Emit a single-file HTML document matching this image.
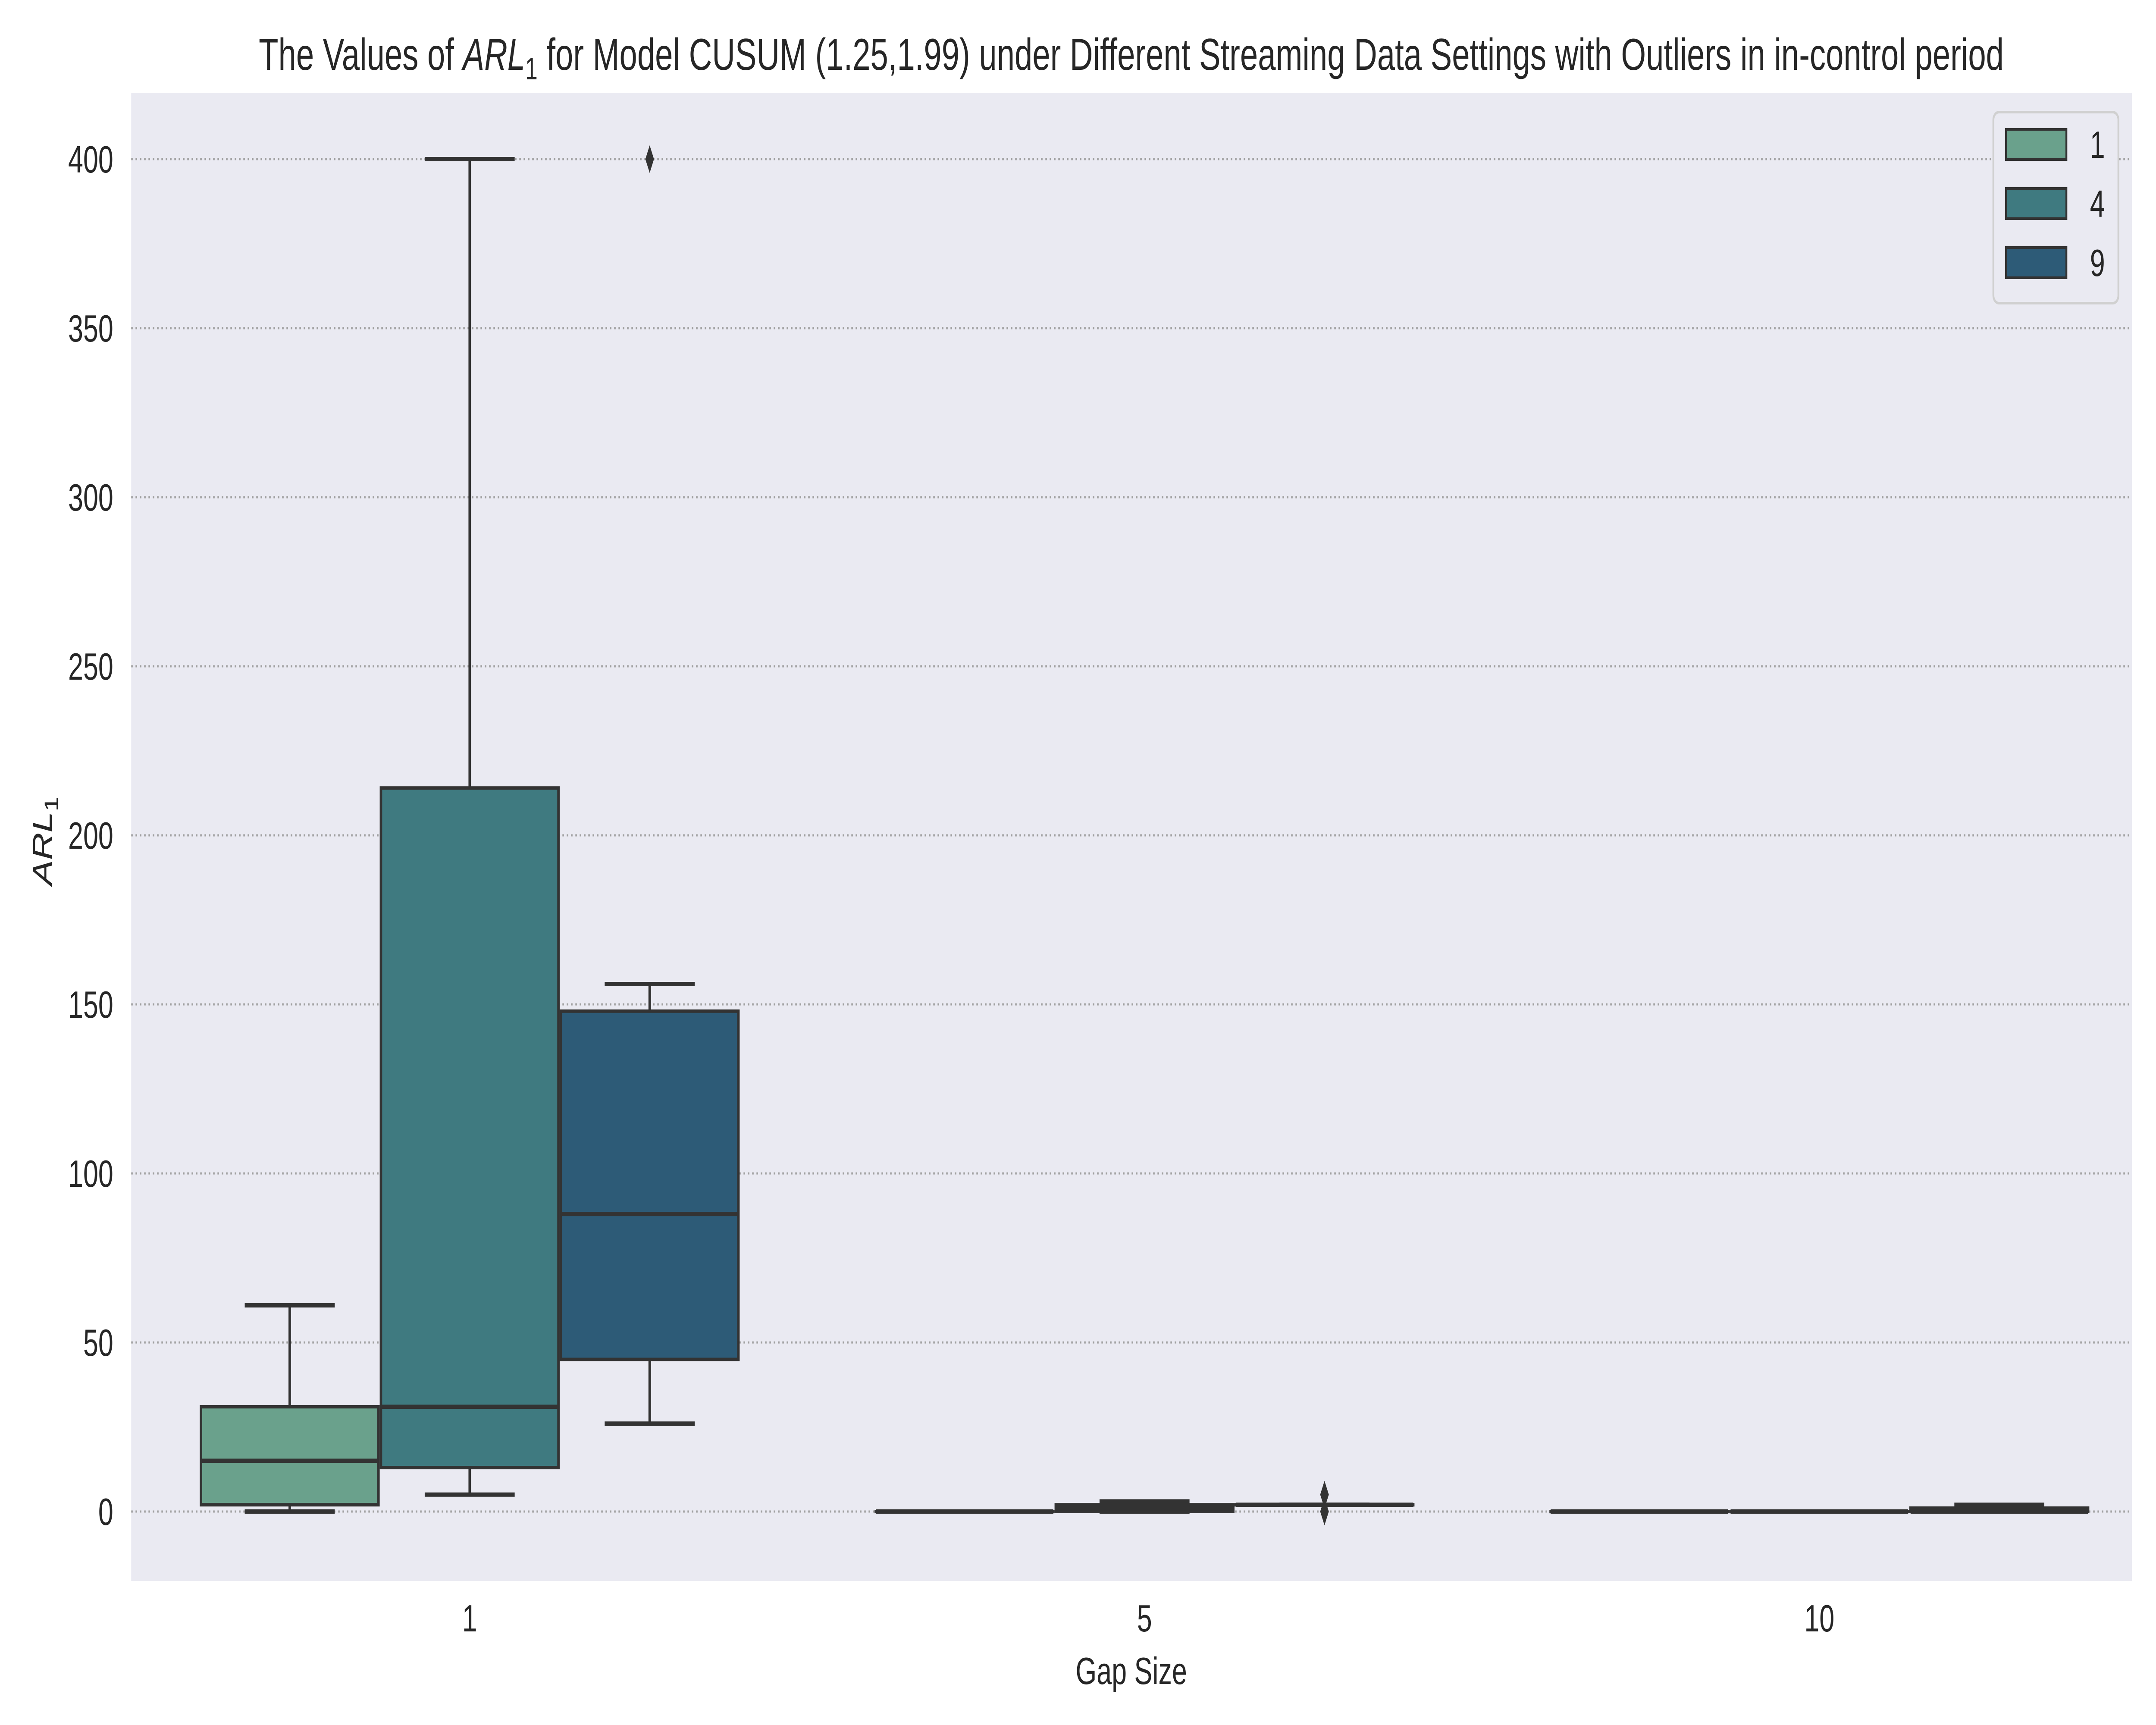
<!DOCTYPE html>
<html><head><meta charset="utf-8"><style>
html,body{margin:0;padding:0;background:#fff;width:100%;height:100%;overflow:hidden}
svg{display:block;width:100vw;height:100vh;font-family:"Liberation Sans",Arial,sans-serif}
</style></head><body>
<svg id="chart" viewBox="0 0 7000 4000" preserveAspectRatio="none" xmlns="http://www.w3.org/2000/svg">
<rect x="0" y="0" width="7000" height="4000" fill="#ffffff"/>
<rect x="426" y="215" width="6496" height="3451" fill="#eaeaf2"/>
<g id="grid"></g>
<g id="yticks"></g>
<g id="xticks"></g>
<g id="boxes"></g>
<text x="3673" y="162" font-size="104" text-anchor="middle" fill="#262626">The Values of <tspan font-style="italic">ARL</tspan><tspan font-size="72" dy="22">1</tspan><tspan dy="-22"> for Model CUSUM (1.25,1.99) under Different Streaming Data Settings with Outliers in in-control period</tspan></text>
<text x="3673" y="3905" font-size="88" text-anchor="middle" fill="#262626">Gap Size</text>
<text transform="translate(168,1950) rotate(-90)" font-size="88" text-anchor="middle" fill="#262626"><tspan font-style="italic">ARL</tspan><tspan font-size="62" dy="20">1</tspan></text>
<g>
<rect x="6472" y="260" width="406" height="443" rx="18" fill="#eaeaf2" stroke="#d0d0d0" stroke-width="6"/>
<g id="legend-items"></g>
</g>
</svg>
<script>
const categories = ["1","5","10"];
const hues = ["1","4","9"];
const colors = ["#6aa18c","#3f7a80","#2d5b77"];
// per group, per hue: [whiskerLow, q1, median, q3, whiskerHigh]
const statsGap1 = [[0,2,15,31,61],[5,13,31,214,400],[26,45,88,148,156]];
const statsGap5 = [[0,0,0,0,0],[0,0,1,2,3],[2,2,2,2,2]];
const statsGap10 = [[0,0,0,0,0],[0,0,0,0,0],[0,0,0,1,2]];
const outliersGap1 = [[],[],[400]];
const outliersGap5 = [[],[],[0,5]];
const outliersGap10 = [[],[],[]];
const yTicks = [0,50,100,150,200,250,300,350,400];

const stats = [statsGap1, statsGap5, statsGap10];
const outliers = [outliersGap1, outliersGap5, outliersGap10];
const NS = "http://www.w3.org/2000/svg";
const y = v => 3505 - v * 7.84;
const xCenter = i => 1525 + i * 2191;
const groupW = 1753, boxW = groupW / 3;
const LC = "#333333";
function mk(tag, attrs, parent){const e=document.createElementNS(NS,tag);for(const k in attrs)e.setAttribute(k,attrs[k]);parent.appendChild(e);return e;}

const grid=document.getElementById('grid'), yt=document.getElementById('yticks');
yTicks.forEach(t=>{
  const l=mk('line',{x1:426,x2:6922,y1:y(t),y2:y(t),stroke:'#a0a0a0','stroke-width':5,'stroke-dasharray':'5 9'},grid);
  
  
  const tx=mk('text',{x:368,y:y(t)+31,'font-size':88,'text-anchor':'end',fill:'#262626'},yt);
  tx.textContent=t;
  
  
});
const xt=document.getElementById('xticks');
categories.forEach((c,i)=>{
  const tx=mk('text',{x:xCenter(i),y:3783,'font-size':88,'text-anchor':'middle',fill:'#262626'},xt);
  tx.textContent=c;
  
  
});
const bg=document.getElementById('boxes');
categories.forEach((c,i)=>{
  hues.forEach((h,j)=>{
    const s=stats[i][j];
    const cx=xCenter(i)-groupW/2+boxW*(j+0.5);
    const g=mk('g',{},bg);
    
    
    const w=boxW-8, cap=boxW/2;
    mk('line',{x1:cx,x2:cx,y1:y(s[0]),y2:y(s[1]),stroke:LC,'stroke-width':8},g);
    mk('line',{x1:cx,x2:cx,y1:y(s[3]),y2:y(s[4]),stroke:LC,'stroke-width':8},g);
    mk('line',{x1:cx-cap/2,x2:cx+cap/2,y1:y(s[0]),y2:y(s[0]),stroke:LC,'stroke-width':10},g);
    mk('line',{x1:cx-cap/2,x2:cx+cap/2,y1:y(s[4]),y2:y(s[4]),stroke:LC,'stroke-width':10},g);
    const top=y(s[3]), bot=y(s[1]);
    mk('rect',{x:cx-w/2,y:top,width:w,height:Math.max(bot-top,0.1),fill:colors[j],stroke:LC,'stroke-width':8},g);
    mk('line',{x1:cx-w/2,x2:cx+w/2,y1:y(s[2]),y2:y(s[2]),stroke:LC,'stroke-width':10},g);
    outliers[i][j].forEach(o=>{
      const yy=y(o);
      const d=mk('path',{d:`M${cx} ${yy-32} L${cx+14} ${yy} L${cx} ${yy+32} L${cx-14} ${yy} Z`,fill:LC},g);
      
      
    });
  });
});
const li=document.getElementById('legend-items');
hues.forEach((h,j)=>{
  const yy=300+j*137;
  const r=mk('rect',{x:6513,y:yy,width:196,height:70,fill:colors[j],stroke:LC,'stroke-width':6},li);
  
  
  const t=mk('text',{x:6810,y:yy+66,'font-size':88,'text-anchor':'middle',fill:'#262626'},li);
  t.textContent=h;
  
  
});
</script>
</body></html>
